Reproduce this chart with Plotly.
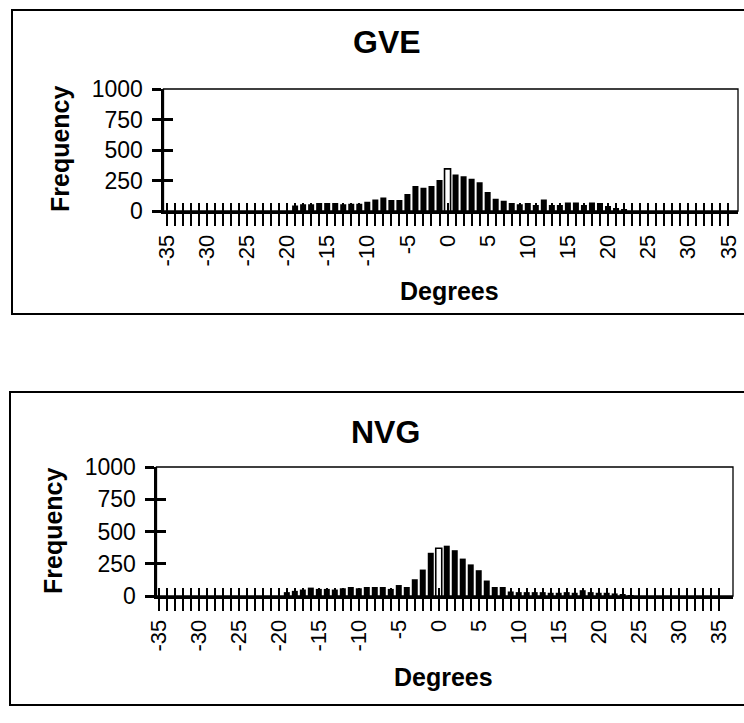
import plotly.graph_objects as go

degrees = list(range(-35, 36))

gve_freq = [0] * 16 + [
    45, 55, 55, 65, 65, 65, 55, 60, 60, 75,      # -19 .. -10
    95, 110, 90, 90, 140, 205, 190, 205, 255,    # -9 .. -1
    345,                                         # 0
    300, 285, 265, 235, 155, 100, 85, 65, 55, 65,  # 1 .. 10
    50, 95, 50, 50, 70, 70, 50, 70, 65, 40,      # 11 .. 20
    25, 10,                                      # 21 .. 22
] + [0] * 13

nvg_freq = [0] * 16 + [
    30, 40, 50, 65, 55, 55, 50, 60, 70, 60,      # -19 .. -10
    70, 70, 70, 55, 85, 70, 130, 205, 335,       # -9 .. -1
    370,                                         # 0
    390, 355, 290, 245, 200, 120, 70, 70, 35, 30,  # 1 .. 10
    30, 30, 30, 25, 25, 30, 25, 45, 30, 25,      # 11 .. 20
    25, 20, 15, 5,                               # 21 .. 24
] + [0] * 11

x_label_values = [-35, -30, -25, -20, -15, -10, -5, 0, 5, 10, 15, 20, 25, 30, 35]
y_tick_values = [0, 250, 500, 750, 1000]
panel_titles = ["GVE", "NVG"]
x_title = "Degrees"
y_title = "Frequency"

x_tick_text = [str(d) if d in x_label_values else "" for d in degrees]

W, H = 744, 723
FONT = "Liberation Sans, Arial, Helvetica, sans-serif"

fig = go.Figure()


def px_x(v):
    return v / W


def px_y(v):
    return 1 - v / H


panels = [
    dict(freq=gve_freq, title=panel_titles[0], xdom=[163.5, 738], ydom=[211, 89],
         xrange=[-35.4, 36.2], box=[12, 10, 314], title_xy=(387, 42),
         xt_xy=(449, 291), yt_xy=(60, 149)),
    dict(freq=nvg_freq, title=panel_titles[1], xdom=[156.5, 733], ydom=[596, 467],
         xrange=[-35.3, 36.8], box=[10, 392, 705], title_xy=(385, 432),
         xt_xy=(443, 677), yt_xy=(53, 531)),
]

annotations = []
shapes = []
for i, p in enumerate(panels):
    xa = "x" if i == 0 else "x2"
    ya = "y" if i == 0 else "y2"
    xo = "x3" if i == 0 else "x4"
    yo = "y3" if i == 0 else "y4"
    colors = ["white" if d == 0 else "black" for d in degrees]
    lw = [1.6 if d == 0 else 0 for d in degrees]
    fig.add_trace(go.Bar(x=degrees, y=p["freq"], xaxis=xa, yaxis=ya,
                         marker=dict(color=colors, line=dict(color="black", width=lw)),
                         showlegend=False, hoverinfo="x+y"))
    fig.add_trace(go.Scatter(x=[], y=[], xaxis=xo, yaxis=yo, showlegend=False))

    xdom = [px_x(p["xdom"][0]), px_x(p["xdom"][1])]
    ydom = [px_y(p["ydom"][0]), px_y(p["ydom"][1])]
    n = "" if i == 0 else "2"
    no = "3" if i == 0 else "4"
    fig.update_layout(**{
        f"xaxis{n}": dict(domain=xdom, range=p["xrange"], anchor=ya, automargin=False,
                          tickmode="array", tickvals=degrees, ticktext=x_tick_text,
                          ticks="outside", ticklen=12, tickwidth=2, tickcolor="black",
                          tickangle=-90, tickfont=dict(family=FONT, size=22, color="black"),
                          showline=True, linewidth=3, linecolor="black",
                          showgrid=False, zeroline=False, fixedrange=True),
        f"yaxis{n}": dict(domain=ydom, range=[0, 1000], anchor=xa, automargin=False,
                          tickmode="array", tickvals=y_tick_values,
                          ticks="outside", ticklen=9, tickwidth=2.5, tickcolor="black",
                          tickfont=dict(family=FONT, size=23, color="black"),
                          ticklabelstandoff=4,
                          showline=True, linewidth=3, linecolor="black",
                          showgrid=False, zeroline=False, fixedrange=True),
        f"xaxis{no}": dict(overlaying=xa, matches=xa, anchor=ya, domain=xdom,
                           automargin=False,
                           tickmode="array", tickvals=degrees,
                           ticks="inside", ticklen=8, tickwidth=2, tickcolor="black",
                           showticklabels=False, showline=False, showgrid=False,
                           zeroline=False),
        f"yaxis{no}": dict(overlaying=ya, matches=ya, anchor=xa, domain=ydom,
                           automargin=False,
                           tickmode="array", tickvals=y_tick_values,
                           ticks="inside", ticklen=9, tickwidth=2.5, tickcolor="black",
                           showticklabels=False, showline=False, showgrid=False,
                           zeroline=False),
    })

    # plot area frame
    shapes.append(dict(type="rect", xref=f"{xa} domain", yref=f"{ya} domain",
                       x0=0, x1=1, y0=0, y1=1, line=dict(color="black", width=1.3),
                       layer="below"))
    # outer chart border
    bx0, by0, by1 = p["box"]
    shapes.append(dict(type="rect", xref="paper", yref="paper",
                       x0=px_x(bx0), x1=px_x(W + 10), y0=px_y(by1), y1=px_y(by0),
                       line=dict(color="black", width=2)))

    annotations.append(dict(text=f"<b>{p['title']}</b>", xref="paper", yref="paper",
                            x=px_x(p["title_xy"][0]), y=px_y(p["title_xy"][1]),
                            xanchor="center", yanchor="middle", showarrow=False,
                            font=dict(family=FONT, size=32, color="black")))
    annotations.append(dict(text=f"<b>{x_title}</b>", xref="paper", yref="paper",
                            x=px_x(p["xt_xy"][0]), y=px_y(p["xt_xy"][1]),
                            xanchor="center", yanchor="middle", showarrow=False,
                            font=dict(family=FONT, size=25, color="black")))
    annotations.append(dict(text=f"<b>{y_title}</b>", xref="paper", yref="paper",
                            x=px_x(p["yt_xy"][0]), y=px_y(p["yt_xy"][1]),
                            xanchor="center", yanchor="middle", showarrow=False,
                            textangle=-90,
                            font=dict(family=FONT, size=25, color="black")))

fig.update_layout(width=W, height=H, margin=dict(l=0, r=0, t=0, b=0, autoexpand=False),
                  paper_bgcolor="white", plot_bgcolor="white",
                  bargap=0.25, showlegend=False,
                  annotations=annotations, shapes=shapes,
                  font=dict(family=FONT, color="black"))

fig.write_html("out.html",
               config={"displayModeBar": False},
               post_script="document.body.style.margin='0px';"
                           "document.body.style.overflow='hidden';")
